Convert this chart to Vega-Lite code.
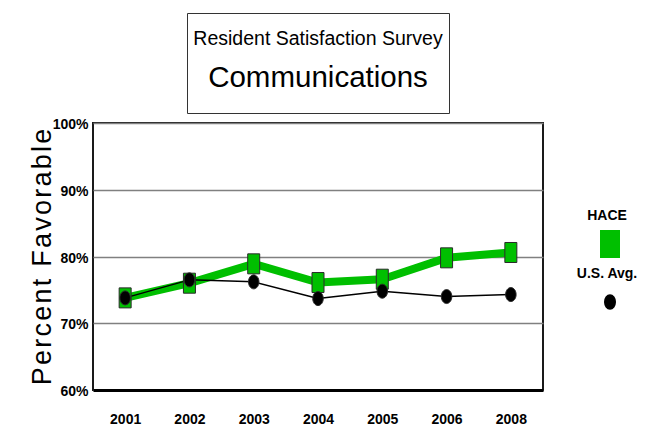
{
  "$schema": "https://vega.github.io/schema/vega-lite/v6.json",
  "padding": {"left": 27, "top": 12, "right": 0, "bottom": 0},
  "background": "white",
  "config": {
    "font": "Liberation Sans, Arial, sans-serif",
    "view": {"stroke": null}
  },
  "datasets": {
    "heading": [
      {"text": "Resident Satisfaction Survey", "line": 1},
      {"text": "Communications", "line": 2}
    ],
    "survey": [
      {"year": "2001", "series": "HACE", "pct": 73.8},
      {"year": "2002", "series": "HACE", "pct": 76.0},
      {"year": "2003", "series": "HACE", "pct": 78.9},
      {"year": "2004", "series": "HACE", "pct": 76.1},
      {"year": "2005", "series": "HACE", "pct": 76.6},
      {"year": "2006", "series": "HACE", "pct": 79.8},
      {"year": "2008", "series": "HACE", "pct": 80.6},
      {"year": "2001", "series": "U.S. Avg.", "pct": 73.8},
      {"year": "2002", "series": "U.S. Avg.", "pct": 76.5},
      {"year": "2003", "series": "U.S. Avg.", "pct": 76.2},
      {"year": "2004", "series": "U.S. Avg.", "pct": 73.7},
      {"year": "2005", "series": "U.S. Avg.", "pct": 74.8},
      {"year": "2006", "series": "U.S. Avg.", "pct": 74.0},
      {"year": "2008", "series": "U.S. Avg.", "pct": 74.3}
    ]
  },
  "bounds": "flush",
  "center": true,
  "spacing": 10,
  "vconcat": [
    {
      "width": 262,
      "height": 100,
      "view": {"stroke": "#333333", "strokeWidth": 1},
      "data": {"name": "heading"},
      "encoding": {
        "y": {"field": "line", "type": "ordinal", "scale": {"type": "point", "padding": 0.69}, "axis": null},
        "text": {"field": "text"}
      },
      "layer": [
        {
          "transform": [{"filter": "datum.line == 1"}],
          "mark": {"type": "text", "fontSize": 19.5, "baseline": "alphabetic", "dy": 3, "color": "black"}
        },
        {
          "transform": [{"filter": "datum.line == 2"}],
          "mark": {"type": "text", "fontSize": 29.5, "baseline": "alphabetic", "dy": 3, "color": "black"}
        }
      ]
    },
    {
      "width": 450,
      "height": 267,
      "view": {"stroke": "#1a1a1a", "strokeWidth": 2},
      "data": {"name": "survey"},
      "encoding": {
        "x": {
          "field": "year", "type": "ordinal",
          "scale": {"type": "point", "padding": 0.5},
          "axis": {
            "title": null, "labelAngle": 0, "labelFontSize": 14, "labelFontWeight": "bold",
            "labelColor": "black", "ticks": false, "domainColor": "black", "domainWidth": 3,
            "labelPadding": 22
          }
        },
        "y": {
          "field": "pct", "type": "quantitative",
          "scale": {"domain": [60, 100], "nice": false, "zero": false},
          "axis": {
            "values": [60, 70, 80, 90, 100],
            "labelExpr": "datum.value + '%'",
            "labelFontSize": 14, "labelFontWeight": "bold", "labelColor": "black", "labelPadding": 5,
            "labelOffset": 1.5,
            "ticks": false, "domain": false,
            "grid": true, "gridColor": "#808080", "gridWidth": 1.5,
            "title": "P\u200Ae\u200Ar\u200Ac\u200Ae\u200An\u200At\u200A \u200AF\u200Aa\u200Av\u200Ao\u200Ar\u200Aa\u200Ab\u200Al\u200Ae",
            "titleFontSize": 27, "titleFontWeight": "normal", "titleColor": "black", "titlePadding": -4
          }
        }
      },
      "layer": [
        {
          "mark": {"type": "line", "strokeCap": "round", "strokeJoin": "round"},
          "encoding": {
            "color": {
              "field": "series", "type": "nominal",
              "scale": {"domain": ["HACE", "U.S. Avg."], "range": ["#00BF00", "#000000"]},
              "legend": {
                "title": null, "orient": "none", "legendX": 503, "legendY": 217,
                "labelFontSize": 14, "labelFontWeight": "bold", "labelColor": "black",
                "labelAlign": "center", "labelOffset": -17, "rowPadding": -3, "symbolSize": 1156,
                "encode": {
                  "labels": {"update": {"dy": {"value": -28}}}
                }
              }
            },
            "strokeWidth": {
              "field": "series", "type": "nominal",
              "scale": {"domain": ["HACE", "U.S. Avg."], "range": [8, 1.5]},
              "legend": null
            }
          }
        },
        {
          "mark": {"type": "point", "filled": true, "opacity": 1, "stroke": "#2a2a2a", "strokeWidth": 1},
          "encoding": {
            "color": {
              "field": "series", "type": "nominal",
              "scale": {"domain": ["HACE", "U.S. Avg."], "range": ["#00BF00", "#000000"]}
            },
            "shape": {
              "field": "series", "type": "nominal",
              "scale": {"domain": ["HACE", "U.S. Avg."], "range": ["M-0.6,-1H0.6V1H-0.6Z", "M0,-1A0.75,1 0 1,1 0,1A0.75,1 0 1,1 0,-1Z"]},
              "legend": null
            },
            "size": {
              "field": "series", "type": "nominal",
              "scale": {"domain": ["HACE", "U.S. Avg."], "range": [400, 196]},
              "legend": null
            }
          }
        }
      ]
    }
  ]
}
